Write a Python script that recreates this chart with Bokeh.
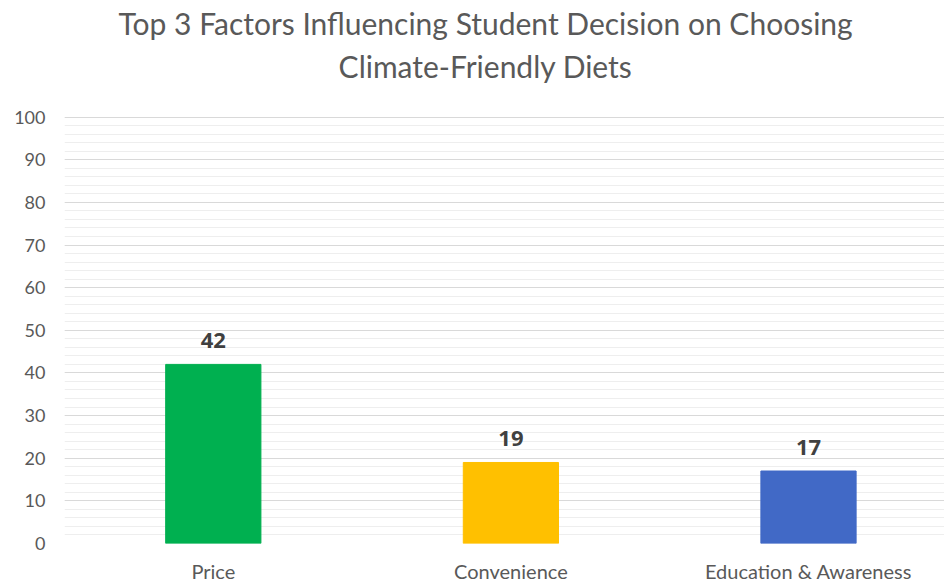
from bokeh.plotting import figure
from bokeh.models import ColumnDataSource, Range1d, FixedTicker, LabelSet, Label
from bokeh.core.properties import value
from bokeh.embed import file_html
from bokeh.resources import INLINE

categories = ["Price", "Convenience", "Education & Awareness"]
values = [42, 19, 17]
colors = ["#00B050", "#FFC000", "#4169C6"]
y_ticks = [0, 10, 20, 30, 40, 50, 60, 70, 80, 90, 100]
title_lines = ["Top 3 Factors Influencing Student Decision on Choosing", "Climate-Friendly Diets"]

FONT = "Lato"
xs = [i + 0.5 for i in range(len(categories))]
src = ColumnDataSource(dict(x=xs, top=values, color=colors, label=[str(v) for v in values]))

# the frame extends above 100 to hold the title; ticks and grid stop at 100
p = figure(width=944, height=585, output_backend="svg", toolbar_location=None,
           x_range=Range1d(0, 2.957), y_range=Range1d(0, 127.34),
           min_border_left=64, min_border_right=0, min_border_top=0, min_border_bottom=40)

p.vbar(x="x", top="top", width=0.32, color="color", source=src)

labels = LabelSet(x="x", y="top", text="label", source=src, text_align="center",
                  text_baseline="alphabetic", y_offset=16, text_font=value("Open Sans"),
                  text_font_size="22px", text_font_style="bold", text_color="#404040")
p.add_layout(labels)

for txt, yy in zip(title_lines, [122.0, 111.9]):
    p.add_layout(Label(x=1.415, y=yy, text=txt, text_align="center", text_baseline="middle",
                       text_font=FONT, text_font_size="30px", text_color="#595959"))

p.xaxis.ticker = FixedTicker(ticks=xs)
p.xaxis.major_label_overrides = {x: c for x, c in zip(xs, categories)}
p.yaxis.ticker = FixedTicker(ticks=y_ticks, minor_ticks=list(range(0, 101, 2)))
for ax in (p.xaxis[0], p.yaxis[0]):
    ax.axis_line_color = None
    ax.major_tick_line_color = None
    ax.minor_tick_line_color = None
    ax.major_tick_out = 0
    ax.minor_tick_out = 0
    ax.major_tick_in = 0
    ax.minor_tick_in = 0
    ax.major_label_text_font = FONT
    ax.major_label_text_color = "#595959"
p.yaxis.major_label_text_font_size = "18px"
p.yaxis.major_label_standoff = 19
p.xaxis.major_label_text_font_size = "20px"
p.xaxis.major_label_standoff = 15

p.xgrid.grid_line_color = None
p.ygrid.grid_line_color = "#d9d9d9"
p.ygrid.minor_grid_line_color = "#eeeeee"
p.outline_line_color = None

open("out.html", "w").write(file_html(p, INLINE))
